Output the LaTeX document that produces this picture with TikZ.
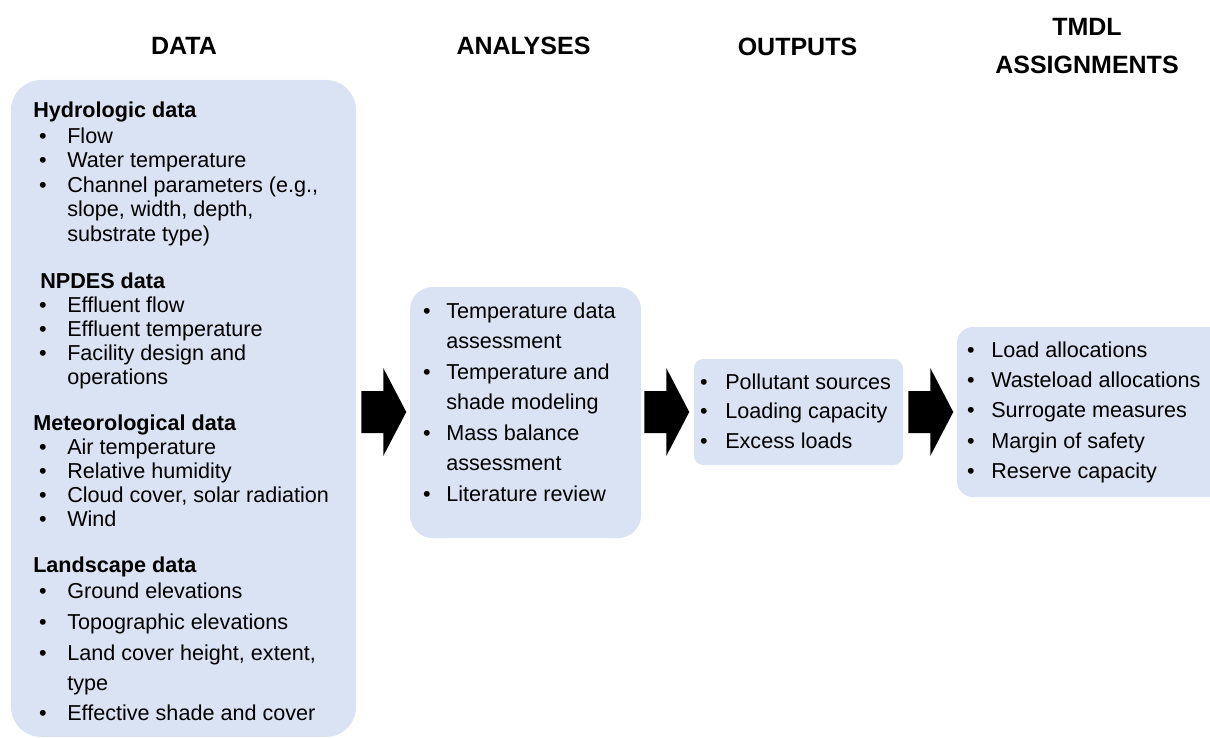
\documentclass[tikz,border=0pt]{standalone}
\usepackage{fontspec}
\setmainfont{Liberation Sans}
\usetikzlibrary{fit,calc}
\definecolor{boxblue}{RGB}{218,227,243}
% bullet item: name, bullet x, text x, baseline y, text
\newcommand\bitem[5]{%
  \node[bul] (#1b) at (#2,#4) {\textbullet};
  \node[txt] (#1) at (#3,#4) {#5};}
% continuation line: name, text x, baseline y, text
\newcommand\citem[4]{\node[txt] (#1) at (#2,#3) {#4};}
\newcommand\blockarr[1]{\fill[blockarrow] (#1) ++(0,-21) -- ++(22,0) -- ++(0,-23) -- ++(23,44) -- ++(-23,44) -- ++(0,-23) -- ++(-22,0) -- cycle;}
\begin{document}
\begin{tikzpicture}[x=0.75pt,y=-0.75pt,
  box/.style={fill=boxblue, draw=none, inner sep=0pt, rectangle},
  hdr/.style={font=\fontsize{18.75}{28.5}\selectfont\bfseries, align=center, inner sep=0pt},
  txt/.style={font=\fontsize{16.2}{19}\selectfont, anchor=base west, inner sep=0pt},
  sub/.style={font=\fontsize{16.2}{19}\selectfont\bfseries, anchor=base west, inner sep=0pt},
  bul/.style={font=\fontsize{16.2}{19}\selectfont, anchor=base, inner sep=0pt},
  blockarrow/.style={fill=black, draw=none}]
\useasboundingbox (0,0) rectangle (1210,738);
\clip (0,0) rectangle (1210,738);

% headers
\node[hdr] (hdata) at (184,46) {DATA};
\node[hdr] (hanal) at (523.5,46) {ANALYSES};
\node[hdr] (hout) at (797.5,46.5) {OUTPUTS};
\node[hdr] (htmdl) at (1087,46) {TMDL\\ASSIGNMENTS};

% boxes
\node[box, rounded corners=22.5pt, fit={(11,80)(356,737)}] (data) {};
\node[box, rounded corners=17pt, fit={(410,287)(641,538)}] (analyses) {};
\node[box, rounded corners=7pt, fit={(694,359)(903,465)}] (outputs) {};
\node[box, rounded corners=12pt, fit={(957,327)(1235,497)}] (tmdl) {};

% arrows
\coordinate (a1) at ($(data.east |- outputs.center)+(5,0)$);
\coordinate (a2) at ($(analyses.east |- outputs.center)+(3,0)$);
\coordinate (a3) at ($(outputs.east)+(5,0)$);
\blockarr{a1}
\blockarr{a2}
\blockarr{a3}

% DATA box
\node[sub] (d1) at (33,118) {Hydrologic data};
\bitem{d2}{43}{67}{144}{Flow}
\bitem{d3}{43}{67}{168}{Water temperature}
\bitem{d4}{43}{67}{193}{Channel parameters (e.g.,}
\citem{d5}{67}{217}{slope, width, depth,}
\citem{d6}{67}{241}{substrate type)}
\node[sub] (d7) at (40,288) {NPDES data};
\bitem{d8}{43}{67}{312}{Effluent flow}
\bitem{d9}{43}{67}{336}{Effluent temperature}
\bitem{d10}{43}{67}{360}{Facility design and}
\citem{d11}{67}{384}{operations}
\node[sub] (d12) at (33,430) {Meteorological data};
\bitem{d13}{43}{67}{454}{Air temperature}
\bitem{d14}{43}{67}{478}{Relative humidity}
\bitem{d15}{43}{67}{502}{Cloud cover, solar radiation}
\bitem{d16}{43}{67}{526}{Wind}
\node[sub] (d17) at (33,572) {Landscape data};
\bitem{d18}{43}{67}{598}{Ground elevations}
\bitem{d19}{43}{67}{629}{Topographic elevations}
\bitem{d20}{43}{67}{660}{Land cover height, extent,}
\citem{d21}{67}{690}{type}
\bitem{d22}{43}{67}{720}{Effective shade and cover}

% ANALYSES box
\bitem{an1}{427}{446}{318}{Temperature data}
\citem{an2}{446}{348.5}{assessment}
\bitem{an3}{427}{446}{379}{Temperature and}
\citem{an4}{446}{409.5}{shade modeling}
\bitem{an5}{427}{446}{440}{Mass balance}
\citem{an6}{446}{470.5}{assessment}
\bitem{an7}{427}{446}{501}{Literature review}

% OUTPUTS box
\bitem{o1}{704}{725}{389}{Pollutant sources}
\bitem{o2}{704}{725}{418.5}{Loading capacity}
\bitem{o3}{704}{725}{448}{Excess loads}

% TMDL box
\bitem{t1}{971}{991}{357}{Load allocations}
\bitem{t2}{971}{991}{387.3}{Wasteload allocations}
\bitem{t3}{971}{991}{417.6}{Surrogate measures}
\bitem{t4}{971}{991}{448}{Margin of safety}
\bitem{t5}{971}{991}{478}{Reserve capacity}
\end{tikzpicture}
\end{document}
